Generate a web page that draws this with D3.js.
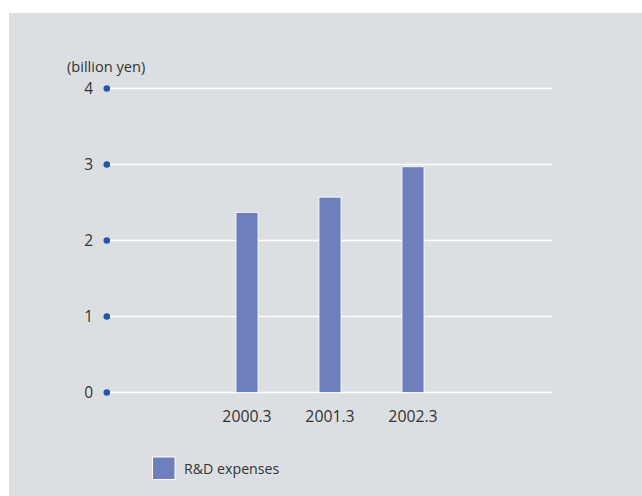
<!DOCTYPE html>
<html>
<head>
<meta charset="utf-8">
<script src="https://cdn.jsdelivr.net/npm/d3@7"></script>
<style>
  html, body { margin: 0; padding: 0; background: #ffffff; }
  svg { display: block; }
  text { font-family: "Open Sans", "Noto Sans", sans-serif; fill: #333333; }
</style>
</head>
<body>
<svg id="chart" width="642" height="496"></svg>
<script>
// Fiscal years (year ended March)
const categories = ["2000.3", "2001.3", "2002.3"];
// R&D expenses, billion yen
const rdExpenses = [2.37, 2.57, 2.97];
const yTicks = [0, 1, 2, 3, 4];
const unitLabel = "(billion yen)";
const seriesName = "R&D expenses";

const svg = d3.select("#chart");

// panel background
svg.append("rect")
  .attr("x", 9).attr("y", 13)
  .attr("width", 633).attr("height", 483)
  .attr("fill", "#dcdfe2");

const y = d3.scaleLinear().domain([0, 4]).range([392.5, 88.5]);
const x = d3.scalePoint().domain(categories).range([247, 413]);
const barWidth = 22;

// grid lines
svg.append("g")
  .selectAll("line")
  .data(yTicks)
  .join("line")
  .attr("x1", 108).attr("x2", 552)
  .attr("y1", d => y(d)).attr("y2", d => y(d))
  .attr("stroke", "#ffffff")
  .attr("stroke-width", 1.3);

// y-axis dots and labels
const yAxis = svg.append("g");
yAxis.selectAll("circle")
  .data(yTicks)
  .join("circle")
  .attr("cx", 106.8).attr("cy", d => y(d))
  .attr("r", 3.3)
  .attr("fill", "#2356a8");
yAxis.selectAll("text")
  .data(yTicks)
  .join("text")
  .attr("x", 93).attr("y", d => y(d))
  .attr("dy", "0.36em")
  .attr("text-anchor", "end")
  .attr("font-size", 15.5)
  .text(d => d);

svg.append("text")
  .attr("x", 67).attr("y", 71.5)
  .attr("font-size", 14.6)
  .text(unitLabel);

// bars
svg.append("g")
  .selectAll("rect")
  .data(categories)
  .join("rect")
  .attr("x", d => x(d) - barWidth / 2)
  .attr("y", (d, i) => y(rdExpenses[i]))
  .attr("width", barWidth)
  .attr("height", (d, i) => y(0) - y(rdExpenses[i]))
  .attr("fill", "#6e7fbd")
  .attr("stroke", "#ffffff")
  .attr("stroke-width", 0.8);

// x labels
svg.append("g")
  .selectAll("text")
  .data(categories)
  .join("text")
  .attr("x", d => x(d))
  .attr("y", 416)
  .attr("dy", "0.36em")
  .attr("text-anchor", "middle")
  .attr("font-size", 15.8)
  .text(d => d);

// legend
const legend = svg.append("g");
legend.append("rect")
  .attr("x", 152.5).attr("y", 457)
  .attr("width", 22.5).attr("height", 22.5)
  .attr("fill", "#6e7fbd")
  .attr("stroke", "#ffffff")
  .attr("stroke-width", 1);
legend.append("text")
  .attr("x", 184).attr("y", 468.5)
  .attr("dy", "0.36em")
  .attr("font-size", 14.2)
  .text(seriesName);
</script>
</body>
</html>
